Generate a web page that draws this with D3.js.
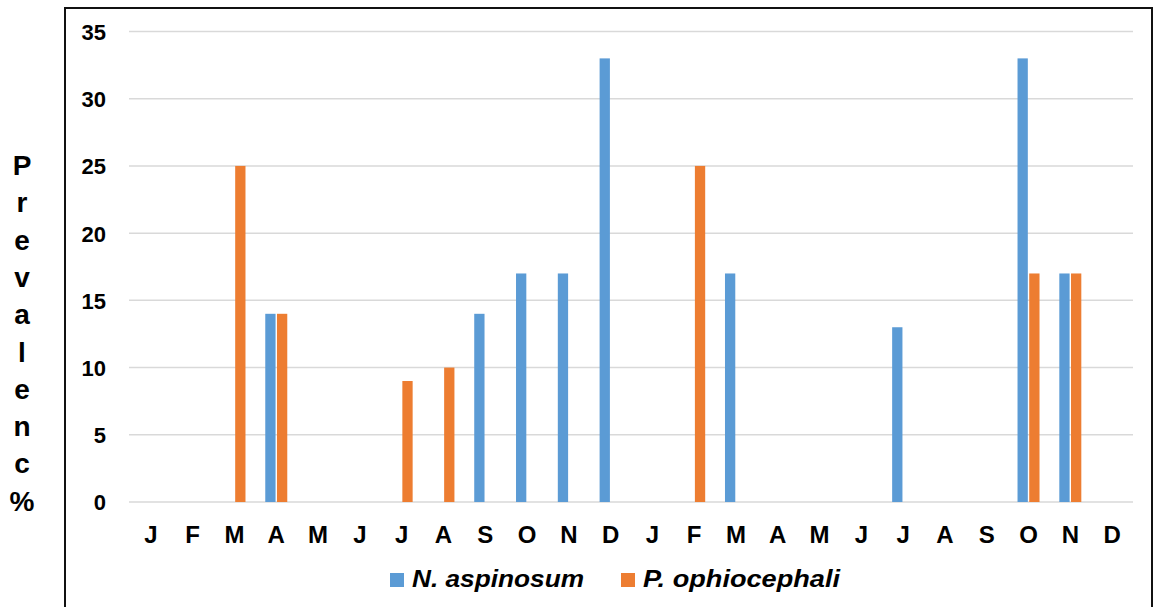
<!DOCTYPE html>
<html lang="en">
<head>
<meta charset="UTF-8" />
<title>Prevalence by month</title>
<script src="https://d3js.org/d3.v7.min.js"></script>
<style>
  body { margin: 0; background: #fff; font-family: "Liberation Sans", Arial, sans-serif; }
  .tick text { font-weight: bold; fill: #000; }
  .yaxis .tick text { font-size: 22px; }
  .xaxis .tick text { font-size: 24px; }
</style>
</head>
<body>
<svg width="1154" height="607"></svg>
<script>
const months = ["J","F","M","A","M","J","J","A","S","O","N","D",
                "J","F","M","A","M","J","J","A","S","O","N","D"];
const nAspinosum = [0,0,0,14,0,0,0,0,14,17,17,33, 0,0,17,0,0,0,13,0,0,33,17,0];
const pOphiocephali = [0,0,25,14,0,0,9,10,0,0,0,0, 0,25,0,0,0,0,0,0,0,17,17,0];
const seriesNames = ["N. aspinosum", "P. ophiocephali"];
const colors = ["#5B9BD5", "#ED7D31"];
const yTicks = [0,5,10,15,20,25,30,35];
const yLabel = "Prevalenc%";

const svg = d3.select("svg");
const plotLeft = 130, plotRight = 1133, plotTop = 31.5, plotBottom = 502;

// frame
svg.append("rect")
  .attr("x", 65).attr("y", 8)
  .attr("width", 1087).attr("height", 620)
  .attr("fill", "none").attr("stroke", "#111").attr("stroke-width", 2);

const keys = months.map((m, i) => i);
const x = d3.scaleBand().domain(keys).range([plotLeft, plotRight]).padding(0);
const x1 = d3.scaleBand().domain([0, 1])
  .range([x.bandwidth() / 2 - 11, x.bandwidth() / 2 + 11]).paddingInner(0.12);
const y = d3.scaleLinear().domain([0, 35]).range([plotBottom, plotTop]);

// gridlines
svg.append("g")
  .selectAll("line")
  .data(yTicks)
  .join("line")
  .attr("x1", plotLeft - 1).attr("x2", plotRight)
  .attr("y1", d => y(d)).attr("y2", d => y(d))
  .attr("stroke", "#d9d9d9").attr("stroke-width", 1.5);

// y axis labels
svg.append("g")
  .attr("class", "yaxis")
  .attr("transform", `translate(106,0)`)
  .call(d3.axisLeft(y).tickValues(yTicks).tickSize(0).tickPadding(0))
  .call(g => g.select(".domain").remove())
  .selectAll("text").attr("dy", "0.36em");

// x axis labels
svg.append("g")
  .attr("class", "xaxis")
  .attr("transform", `translate(0,${plotBottom + 24})`)
  .call(d3.axisBottom(x).tickFormat(i => months[i]).tickSize(0).tickPadding(0))
  .call(g => g.select(".domain").remove())
  .selectAll("text").attr("dy", "0.71em");

// bars
const data = keys.map(i => [nAspinosum[i], pOphiocephali[i]]);
const groups = svg.append("g")
  .selectAll("g")
  .data(data)
  .join("g")
  .attr("transform", (d, i) => `translate(${x(i)},0)`);

groups.selectAll("rect")
  .data(d => d.map((v, s) => ({ v, s })).filter(d => d.v > 0))
  .join("rect")
  .attr("x", d => x1(d.s))
  .attr("width", x1.bandwidth())
  .attr("y", d => y(d.v))
  .attr("height", d => y(0) - y(d.v))
  .attr("fill", d => colors[d.s]);

// y label, stacked letters
svg.append("g")
  .selectAll("text")
  .data(yLabel.split(""))
  .join("text")
  .attr("x", 22)
  .attr("y", (d, i) => 175 + i * 37.3)
  .attr("text-anchor", "middle")
  .attr("font-weight", "bold")
  .attr("font-size", 28)
  .text(d => d);

// legend
const legend = svg.append("g");
const legendX = [390, 621];
const legendW = [172, 197];
seriesNames.forEach((name, i) => {
  legend.append("rect")
    .attr("x", legendX[i]).attr("y", 573)
    .attr("width", 14).attr("height", 14)
    .attr("fill", colors[i]);
  legend.append("text")
    .attr("x", legendX[i] + 22).attr("y", 587)
    .attr("font-weight", "bold").attr("font-style", "italic")
    .attr("font-size", 23)
    .attr("textLength", legendW[i])
    .attr("lengthAdjust", "spacingAndGlyphs")
    .text(name);
});
</script>
</body>
</html>
